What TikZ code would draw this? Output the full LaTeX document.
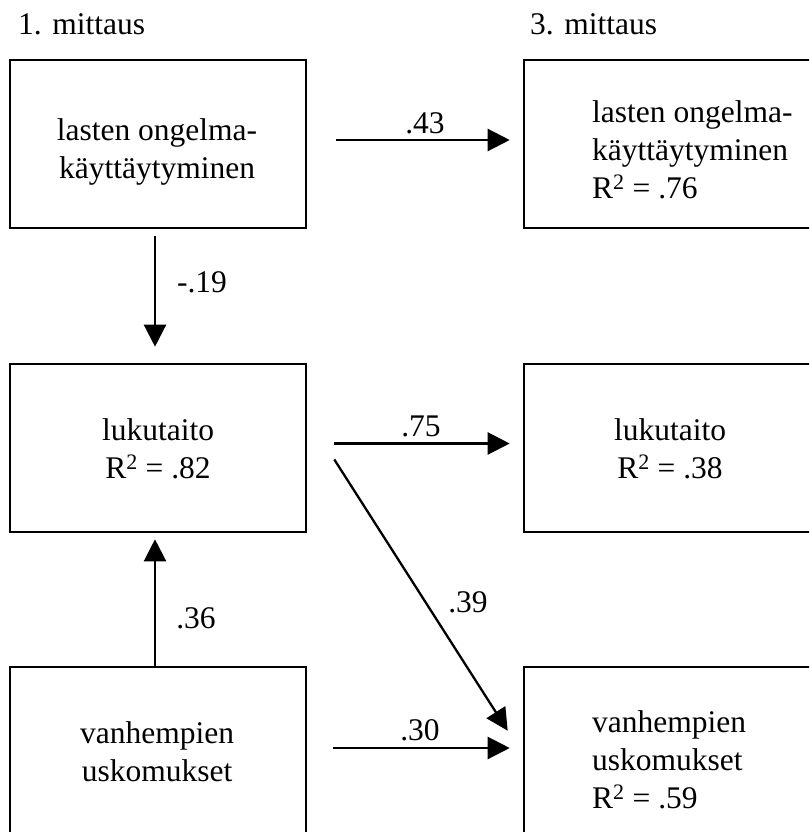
\documentclass[tikz,border=0pt]{standalone}
\usepackage{fontspec}
\setmainfont{Liberation Serif}
\usetikzlibrary{arrows.meta}
\begin{document}
\begin{tikzpicture}[x=1pt,y=-1pt,
  box/.style={draw, line width=2.6pt, minimum width=296pt, minimum height=168pt, inner sep=0pt},
  txt/.style={font=\fontsize{31.5}{38}\selectfont, inner sep=0pt},
  arr/.style={line width=2.3pt, -{Triangle[length=22pt,width=22pt]}},
  ]
\useasboundingbox (0,0) rectangle (809,832);
\clip (0,0) rectangle (809,832);
% titles
\node[txt, anchor=base west] (t1) at (18,35) {1. mittaus};
\node[txt, anchor=base west] (t3) at (530,35) {3. mittaus};
% boxes
\node[box] (tl) at (158,144) {};
\node[box] (tr) at (672,144) {};
\node[box] (ml) at (158,448) {};
\node[box] (mr) at (672,448) {};
\node[box] (bl) at (158,751) {};
\node[box] (br) at (672,751) {};
% box texts
\node[txt, align=center] (tlt) at (157,152) {lasten ongelma-\\käyttäytyminen};
\node[txt, align=left, anchor=west] (trt) at (592,150) {lasten ongelma-\\käyttäytyminen\\R\textsuperscript{2} = .76};
\node[txt, align=center] (mlt) at (158,449) {lukutaito\\R\textsuperscript{2} = .82};
\node[txt, align=center] (mrt) at (670,449) {lukutaito\\R\textsuperscript{2} = .38};
\node[txt, align=center] (blt) at (157,752) {vanhempien\\uskomukset};
\node[txt, align=left, anchor=west] (brt) at (592,760) {vanhempien\\uskomukset\\R\textsuperscript{2} = .59};
% arrows
\draw[arr] ([xshift=29pt,yshift=4pt]tl.east) -- ([xshift=-13pt,yshift=4pt]tr.west);
\draw[arr] ([xshift=-3pt,yshift=-7pt]tl.south) -- ([xshift=-3pt,yshift=16pt]ml.north);
\draw[arr] ([xshift=27pt,yshift=4.5pt]ml.east) -- ([xshift=-13pt,yshift=4.5pt]mr.west);
\draw[arr] ([xshift=27pt,yshift=-11.5pt]ml.east) -- ([xshift=-15pt,yshift=-65pt]br.north west);
\draw[arr] ([xshift=26pt,yshift=3pt]bl.east) -- ([xshift=-13pt,yshift=3pt]br.west);
\draw[arr] ([xshift=-3pt]bl.north) -- ([xshift=-3pt,yshift=-6pt]ml.south);
% labels
\node[txt] (l43) at (425,123) {.43};
\node[txt] (l19) at (202,282) {-.19};
\node[txt] (l75) at (421,426) {.75};
\node[txt] (l39) at (468,602) {.39};
\node[txt] (l30) at (420,730) {.30};
\node[txt] (l36) at (196,618) {.36};
\end{tikzpicture}
\end{document}
